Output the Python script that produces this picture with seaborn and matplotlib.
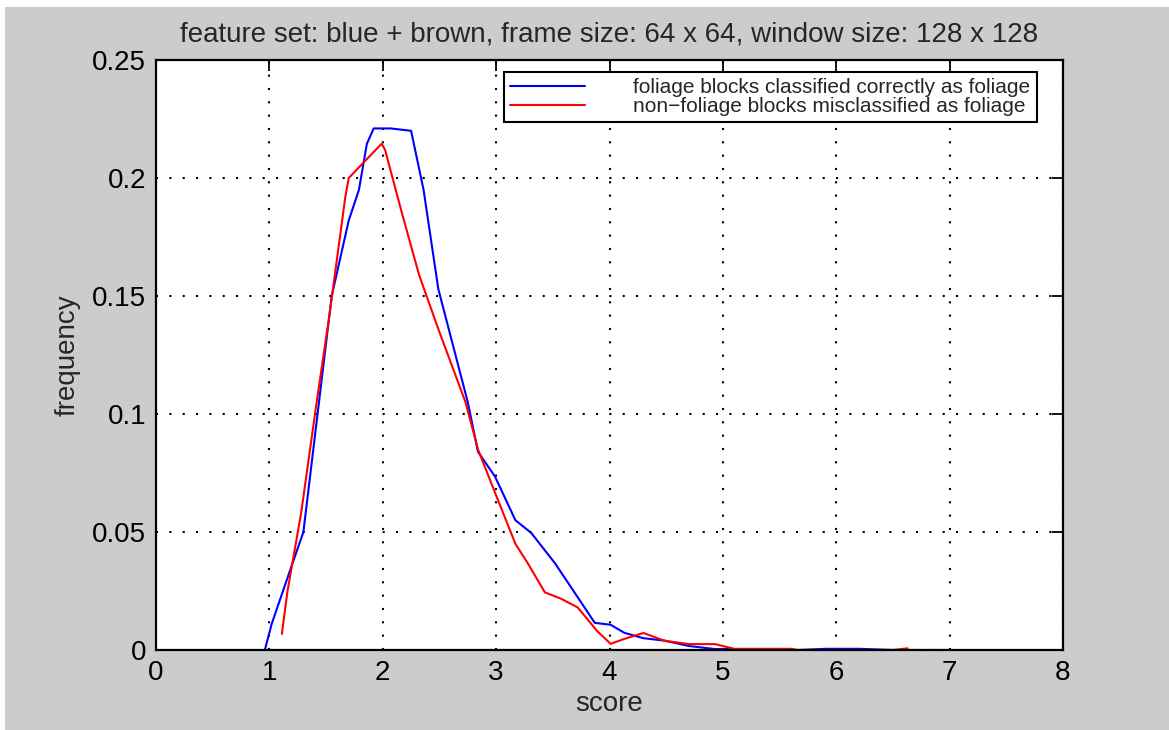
import numpy as np
import pandas as pd
import matplotlib
matplotlib.use("Agg")
import matplotlib.pyplot as plt
from matplotlib.patches import Rectangle
import seaborn as sns

sns.set_style("white")
plt.rcParams['font.family'] = ['Liberation Sans', 'DejaVu Sans']

# curves
blue_x = [0.96, 1.02, 1.17, 1.30, 1.55, 1.70, 1.79, 1.86, 1.92, 2.07, 2.25,
          2.36, 2.49, 2.75, 2.84, 2.99, 3.17, 3.31, 3.52, 3.78, 3.87, 4.01,
          4.13, 4.30, 4.48, 4.70, 4.93, 5.10, 5.66, 5.91, 6.20, 6.50, 7.03]
blue_y = [0.0, 0.011, 0.032, 0.050, 0.150, 0.182, 0.195, 0.2145, 0.221, 0.221,
          0.220, 0.195, 0.153, 0.105, 0.084, 0.0735, 0.055, 0.0496, 0.0367,
          0.018, 0.0115, 0.0107, 0.0073, 0.005, 0.004, 0.0017, 0.0004, 0.0004,
          0.0, 0.0005, 0.0005, 0.0, 0.0]

red_x = [1.11, 1.16, 1.28, 1.42, 1.53, 1.67, 1.70, 1.99, 2.02, 2.17, 2.32,
         2.49, 2.73, 2.84, 2.99, 3.17, 3.28, 3.43, 3.57, 3.72, 3.89, 4.01,
         4.13, 4.30, 4.48, 4.70, 4.93, 5.10, 5.60, 5.66, 6.50, 6.63]
red_y = [0.0068, 0.025, 0.058, 0.106, 0.142, 0.192, 0.200, 0.2145, 0.212,
         0.185, 0.159, 0.136, 0.105, 0.085, 0.0667, 0.045, 0.0367, 0.0244,
         0.0218, 0.018, 0.0081, 0.0026, 0.0047, 0.0072, 0.004, 0.0025, 0.0025,
         0.0005, 0.0005, 0.0, 0.0, 0.0007]

labels = ['foliage blocks classified correctly as foliage',
          'non\u2212foliage blocks misclassified as foliage']
x_ticks = [0, 1, 2, 3, 4, 5, 6, 7, 8]
y_ticks = [0, 0.05, 0.1, 0.15, 0.2, 0.25]
y_ticklabels = ['0', '0.05', '0.1', '0.15', '0.2', '0.25']

blue_df = pd.DataFrame({'score': blue_x, 'frequency': blue_y})
red_df = pd.DataFrame({'score': red_x, 'frequency': red_y})

gray = '#cccccc'
fig = plt.figure(figsize=(11.69, 7.30), dpi=100, facecolor='white')
fig.patches.append(Rectangle((5 / 1169, 0), 1, 723 / 730, transform=fig.transFigure,
                             facecolor=gray, edgecolor='none', zorder=-10))
ax = fig.add_axes([156 / 1169, 80 / 730, 907 / 1169, 590 / 730])
ax.set_facecolor('white')

sns.lineplot(data=blue_df, x='score', y='frequency', ax=ax, color='#0000ff',
             linewidth=1.5, label=labels[0], sort=False)
sns.lineplot(data=red_df, x='score', y='frequency', ax=ax, color='#ff0000',
             linewidth=1.5, label=labels[1], sort=False)

ax.set_xlim(0, 8)
ax.set_ylim(0, 0.25)
ax.set_xticks(x_ticks)
ax.set_yticks(y_ticks)
ax.set_yticklabels(y_ticklabels)
ax.tick_params(direction='in', length=8, width=1.3, top=True, right=True,
               labelsize=20, pad=7, colors='black')
for s in ax.spines.values():
    s.set_visible(True)
    s.set_color('black')
    s.set_linewidth(1.6)

ax.grid(True, color='black', linestyle=(0, (1, 5.4)), linewidth=1.5)
ax.set_axisbelow(True)

ax.set_xlabel('score', fontsize=20, labelpad=4)
ax.set_ylabel('frequency', fontsize=20, labelpad=8)
ax.set_title('feature set: blue + brown, frame size: 64 x 64, window size: 128 x 128',
             fontsize=20, pad=13)

leg = ax.legend(loc='upper right', bbox_to_anchor=(0.971, 0.98), fontsize=15,
                handlelength=3.6, handletextpad=2.3, labelspacing=0.0,
                borderpad=0.3, borderaxespad=0, fancybox=False, framealpha=1,
                edgecolor='black')
leg.get_frame().set_linewidth(1.5)

fig.savefig('out.png', dpi=100, facecolor=fig.get_facecolor())
